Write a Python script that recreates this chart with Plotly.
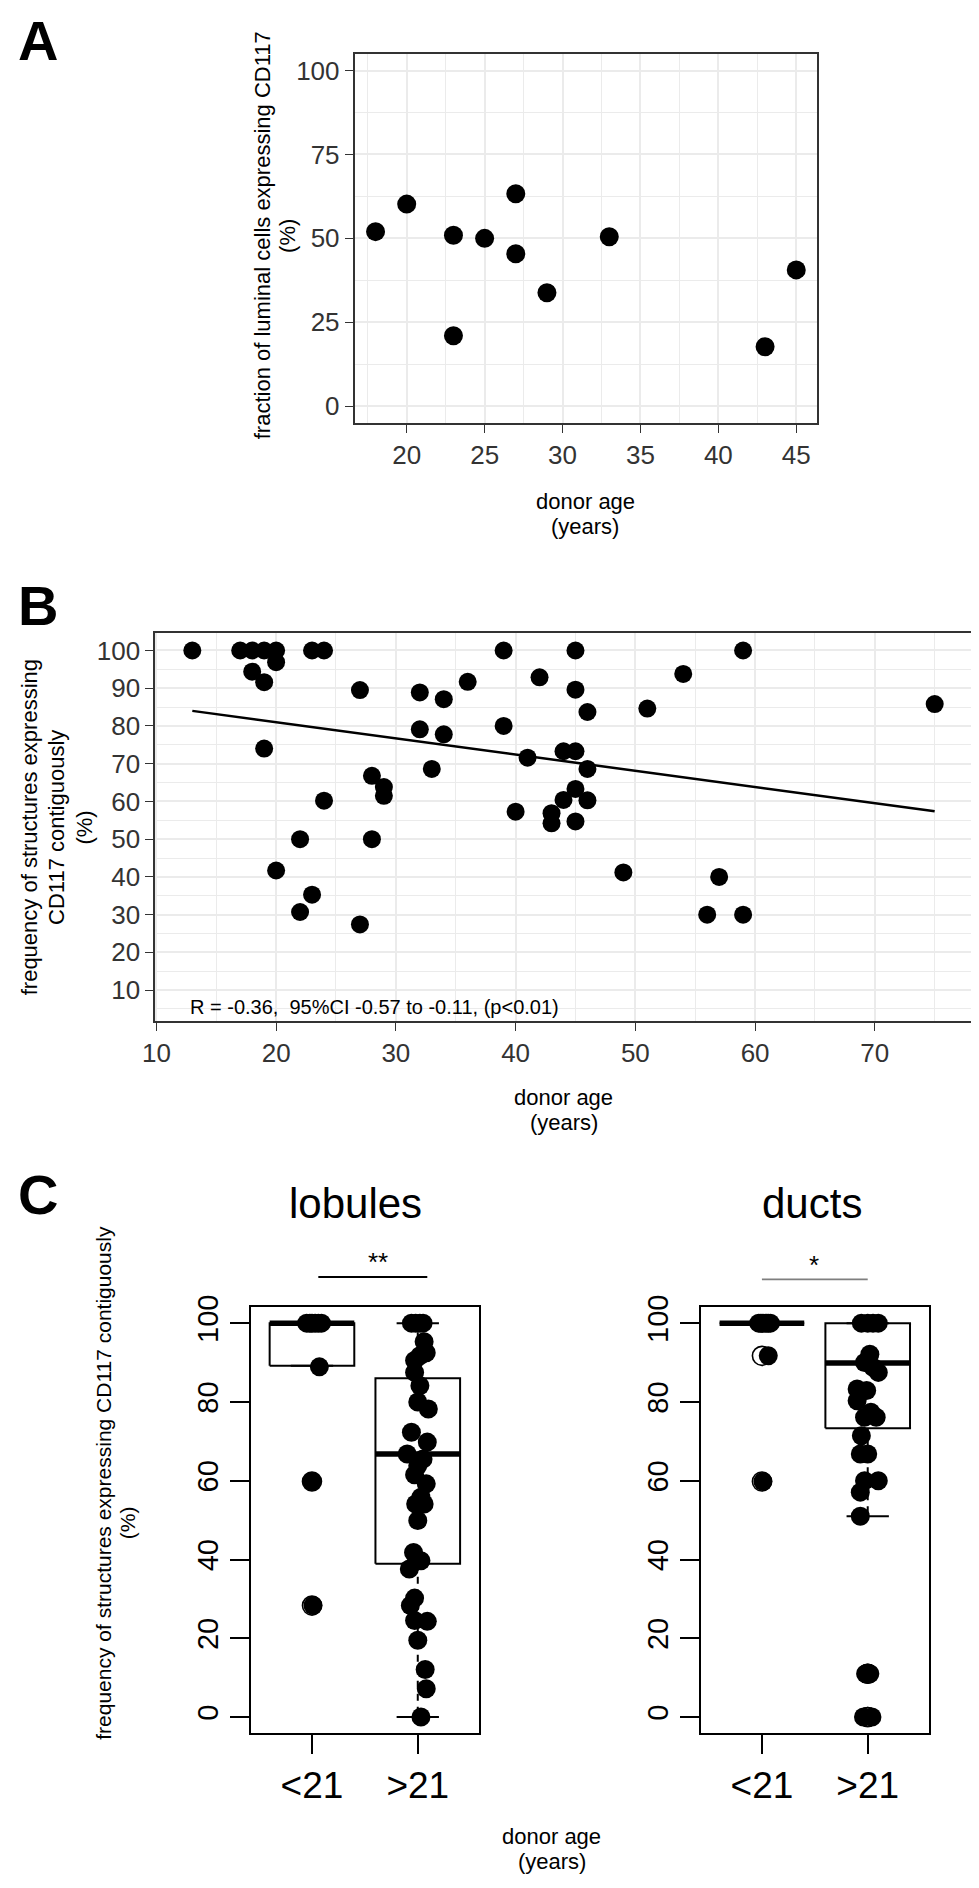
# CD117 expression vs donor age: three panels (A scatter, B scatter + fit, C boxplots)
import plotly.graph_objects as go

W, H = 979, 1888
OFF = 8  # the page body margin shifts the figure by this many pixels
FONT = "Liberation Sans, Arial, Helvetica, sans-serif"
GRID = "#EBEBEB"
INK = "#333333"

# ==== Panel A: fraction of luminal cells expressing CD117 ====
age_a = [18, 20, 23, 23, 25, 27, 27, 29, 33, 43, 45]
frac_a = [52.0, 60.2, 50.9, 21.0, 50.0, 63.3, 45.4, 33.8, 50.5, 17.7, 40.6]

# ==== Panel B: frequency of contiguous structures ====
age_b = [13, 17, 18, 19, 20, 20, 18, 19, 23, 24, 19, 27, 32, 34, 36, 32, 34, 33,
         28, 29, 29, 24, 22, 28, 20, 23, 22, 27, 39, 39, 45, 42, 59, 54, 45, 46,
         51, 75, 41, 44, 45, 46, 45, 44, 46, 40, 43, 43, 45, 49, 57, 56, 59]
freq_b = [100, 100, 100, 100, 100, 96.9, 94.4, 91.6, 100, 100, 74.0, 89.5, 88.9,
          87.1, 91.7, 79.1, 77.8, 68.6, 66.8, 63.8, 61.5, 60.2, 50.0, 50.0, 41.7,
          35.3, 30.7, 27.4, 100, 80.0, 100, 92.9, 100, 93.8, 89.6, 83.7, 84.6,
          85.8, 71.6, 73.3, 73.3, 68.6, 63.3, 60.4, 60.3, 57.3, 56.9, 54.2, 54.7,
          41.2, 40.0, 30.0, 30.0]
fit_age = [13, 75]
fit_freq = [84.0, 57.4]
stats_text = "R = -0.36,\u00a0 95%CI -0.57 to -0.11, (p&lt;0.01)"

# ==== Panel C: boxplots by age group ====
group_pos = [1, 2]
group_labels = ["&lt;21", "&gt;21"]

lob_young_x = [0.95, 0.98, 1.0, 1.03, 1.06, 1.09, 1.07, 1.0, 1.01]
lob_young_y = [100, 100, 100, 100, 100, 100, 88.9, 59.8, 28.3]
lob_old_x = [1.94, 1.98, 2.02, 2.05, 2.06, 2.08, 2.02, 1.97, 1.97, 2.02, 2.0, 2.1,
             1.94, 2.09, 1.9, 2.05, 2.0, 1.97, 2.08, 2.03, 1.98, 2.06, 2.0, 1.96,
             2.03, 1.92, 1.97, 1.93, 1.97, 2.09, 2.0, 2.07, 2.08, 2.03]
lob_old_y = [100, 100, 100, 100, 95.3, 92.5, 91.7, 90.5, 87.5, 84.1, 80.0, 78.2,
             72.3, 69.8, 66.8, 65.5, 63.8, 61.5, 59.2, 55.8, 54.1, 54.1, 49.9, 41.8,
             39.7, 37.6, 30.2, 28.3, 24.5, 24.3, 19.5, 12.1, 7.2, 0]
duct_young_x = [0.97, 0.99, 1.01, 1.04, 1.06, 1.08, 1.06, 1.01]
duct_young_y = [100, 100, 100, 100, 100, 100, 91.7, 59.8]
duct_old_x = [1.94, 2.0, 2.05, 2.1, 2.02, 1.97, 2.05, 2.1, 1.9, 1.99, 1.9, 2.03,
              1.97, 2.08, 1.94, 1.93, 2.0, 2.1, 1.97, 1.93, 1.93, 1.98, 2.02, 1.96, 2.04]
duct_old_y = [100, 100, 100, 100, 92.1, 90.0, 88.8, 87.5, 83.3, 82.9, 80.3, 77.4,
              76.1, 76.1, 71.4, 66.8, 66.8, 60.0, 60.0, 57.1, 51.0, 11, 11, 0, 0]

# box statistics per group (<21, >21)
lob_q1 = [89.2, 38.9]
lob_med = [100, 66.8]
lob_q3 = [100, 86.0]
lob_wlo = [89.2, 0]
lob_whi = [100, 100]
lob_out_x = [1, 1]
lob_out_y = [59.8, 28.3]

duct_q1 = [100, 73.3]
duct_med = [100, 89.9]
duct_q3 = [100, 100]
duct_wlo = [100, 51.0]
duct_whi = [100, 100]
duct_out_x = [1, 1, 2, 2, 2, 2]
duct_out_y = [91.7, 59.8, 11, 11, 0, 0]


def px(x):
    return (x - OFF) / W


def py(y):
    return 1 - (y - OFF) / H


fig = go.Figure()

# ---- A ----
fig.add_trace(go.Scatter(x=age_a, y=frac_a, mode="markers", xaxis="x", yaxis="y",
                         marker=dict(size=19, color="black"), cliponaxis=False))

# ---- B ----
fig.add_trace(go.Scatter(x=age_b, y=freq_b, mode="markers", xaxis="x2", yaxis="y2",
                         marker=dict(size=18, color="black"), cliponaxis=False))
fig.add_trace(go.Scatter(x=fit_age, y=fit_freq, mode="lines", xaxis="x2", yaxis="y2",
                         line=dict(color="black", width=2.5)))


# ---- C ----
def add_boxes(xa, ya, q1, med, q3, wlo, whi):
    for i, pos in enumerate(group_pos):
        x0, x1 = pos - 0.4, pos + 0.4
        thin = dict(color="black", width=2)
        fig.add_trace(go.Scatter(x=[x0, x1, x1, x0, x0],
                                 y=[q1[i], q1[i], q3[i], q3[i], q1[i]],
                                 mode="lines", xaxis=xa, yaxis=ya, line=thin))
        fig.add_trace(go.Scatter(x=[pos, pos, None, pos, pos],
                                 y=[q3[i], whi[i], None, q1[i], wlo[i]],
                                 mode="lines", xaxis=xa, yaxis=ya,
                                 line=dict(color="black", width=2, dash="7px,6px")))
        fig.add_trace(go.Scatter(x=[pos - 0.2, pos + 0.2, None, pos - 0.2, pos + 0.2],
                                 y=[whi[i], whi[i], None, wlo[i], wlo[i]],
                                 mode="lines", xaxis=xa, yaxis=ya, line=thin))
        fig.add_trace(go.Scatter(x=[x0, x1], y=[med[i], med[i]], mode="lines",
                                 xaxis=xa, yaxis=ya,
                                 line=dict(color="black", width=5.5)))


def add_points(xa, ya, out_x, out_y, xs, ys):
    fig.add_trace(go.Scatter(x=out_x, y=out_y, mode="markers", xaxis=xa, yaxis=ya,
                             marker=dict(symbol="circle-open", size=19, color="black",
                                         line=dict(width=1.6)), cliponaxis=False))
    for gx, gy in zip(xs, ys):
        fig.add_trace(go.Scatter(x=gx, y=gy, mode="markers", xaxis=xa, yaxis=ya,
                                 marker=dict(size=19, color="black"), cliponaxis=False))


add_boxes("x3", "y3", lob_q1, lob_med, lob_q3, lob_wlo, lob_whi)
add_points("x3", "y3", lob_out_x, lob_out_y,
           [lob_young_x, lob_old_x], [lob_young_y, lob_old_y])
add_boxes("x4", "y4", duct_q1, duct_med, duct_q3, duct_wlo, duct_whi)
add_points("x4", "y4", duct_out_x, duct_out_y,
           [duct_young_x, duct_old_x], [duct_young_y, duct_old_y])

# ==== Axes ====
gg_axis = dict(ticks="outside", ticklen=8, tickwidth=1.3, tickcolor=INK,
               showline=True, mirror=True, linecolor=INK, linewidth=1.5,
               showgrid=True, gridcolor=GRID, gridwidth=1.8, zeroline=False,
               tickfont=dict(family=FONT, size=26, color="#333333"))
base_axis = dict(ticks="outside", ticklen=19, tickwidth=2, tickcolor="black",
                 showline=True, mirror=True, linecolor="black", linewidth=2,
                 showgrid=False, zeroline=False)

fig.update_layout(
    xaxis=dict(gg_axis, domain=[px(346), px(815)], range=[16.65, 46.35], dtick=5,
               tick0=0, anchor="y",
               minor=dict(dtick=2.5, showgrid=True, gridcolor=GRID, gridwidth=1)),
    yaxis=dict(gg_axis, domain=[py(412.7), py(41)], range=[-5, 105], dtick=25,
               tick0=0, anchor="x",
               minor=dict(dtick=12.5, showgrid=True, gridcolor=GRID, gridwidth=1)),
    xaxis2=dict(gg_axis, domain=[px(144), px(971.6)], range=[9.9, 78.1], dtick=10,
                tick0=0, anchor="y2",
                minor=dict(dtick=5, showgrid=True, gridcolor=GRID, gridwidth=1)),
    yaxis2=dict(gg_axis, domain=[py(1015), py(624)], range=[1.8, 104.7], dtick=10,
                tick0=0, anchor="x2",
                minor=dict(dtick=5, showgrid=True, gridcolor=GRID, gridwidth=1)),
    xaxis3=dict(base_axis, domain=[px(240.7), px(472.3)], range=[0.42, 2.58],
                tickvals=group_pos, ticktext=group_labels, anchor="y3",
                tickfont=dict(family=FONT, size=37, color="black")),
    yaxis3=dict(base_axis, domain=[py(1731.7), py(1303.3)], range=[-4, 104],
                tickvals=[0, 20, 40, 60, 80, 100], tickangle=-90, anchor="x3",
                tickfont=dict(family=FONT, size=29, color="black")),
    xaxis4=dict(base_axis, domain=[px(696.7), px(928.3)], range=[0.42, 2.58],
                tickvals=group_pos, ticktext=group_labels, anchor="y4",
                tickfont=dict(family=FONT, size=37, color="black")),
    yaxis4=dict(base_axis, domain=[py(1731.7), py(1303.3)], range=[-4, 104],
                tickvals=[0, 20, 40, 60, 80, 100], tickangle=-90, anchor="x4",
                tickfont=dict(family=FONT, size=29, color="black")),
)


# ==== Text ====
def note(text, x, y, size, angle=0, anchor="center", color="black"):
    fig.add_annotation(text=text, x=px(x), y=py(y), xref="paper", yref="paper",
                       showarrow=False, textangle=angle, xanchor=anchor,
                       yanchor="middle", font=dict(family=FONT, size=size, color=color))


for letter, ly in [("A", 28), ("B", 597), ("C", 1190)]:
    note(f"<b>{letter}</b>", 3, ly, 56, anchor="left")

note("fraction of luminal cells expressing CD117", 253, 224, 22, angle=-90)
note("(%)", 278, 224, 22, angle=-90)
note("donor age", 580, 492, 22)
note("(years)", 580, 517, 22)

note("frequency of structures expressing", 17, 820, 22, angle=-90)
note("CD117 contiguously", 44, 820, 22, angle=-90)
note("(%)", 72, 820, 22, angle=-90)
note(stats_text, 177, 1001, 20, anchor="left")
note("donor age", 558, 1092, 22)
note("(years)", 558, 1117, 22)

note("lobules", 347, 1199, 42)
note("ducts", 810, 1199, 42)
note("**", 370, 1258, 26)
note("*", 812, 1261, 26)
note("frequency of structures expressing CD117 contiguously", 92, 1480, 21, angle=-90)
note("(%)", 116, 1520, 21, angle=-90)
note("donor age", 546, 1836, 22)
note("(years)", 546, 1861, 22)

fig.add_shape(type="line", xref="x3", yref="paper", x0=1.06, x1=2.09,
              y0=py(1272.7), y1=py(1272.7), line=dict(color="black", width=1.8))
fig.add_shape(type="line", xref="x4", yref="paper", x0=1, x1=2,
              y0=py(1275), y1=py(1275), line=dict(color="#7F7F7F", width=1.8))

fig.update_layout(
    width=W, height=H, margin=dict(l=0, r=0, t=0, b=0),
    showlegend=False, plot_bgcolor="white", paper_bgcolor="white",
    font=dict(family=FONT),
)

fig.write_html("out.html")
